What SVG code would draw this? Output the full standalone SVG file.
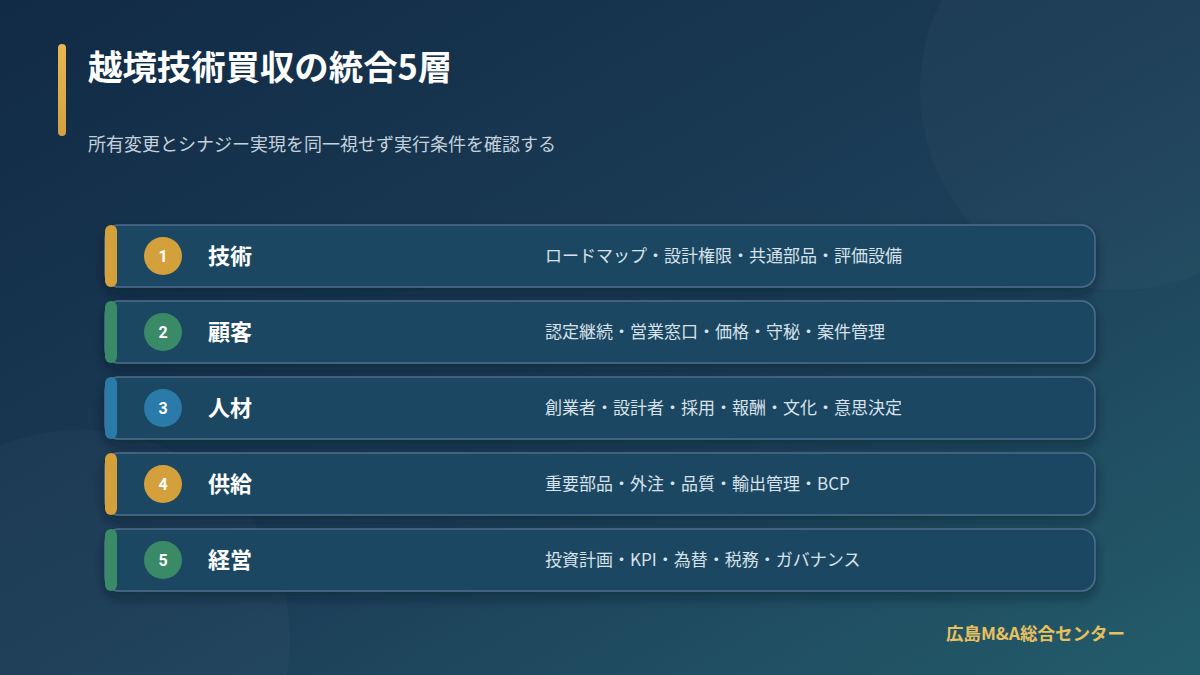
<svg xmlns="http://www.w3.org/2000/svg" width="1200" height="675" viewBox="0 0 1200 675">
<defs>
<linearGradient id="bg" x1="0" y1="0" x2="1" y2="1">
<stop offset="0" stop-color="#112a45"/>
<stop offset="0.55" stop-color="#1c3e58"/>
<stop offset="1" stop-color="#235c6a"/>
</linearGradient>
<linearGradient id="gold" x1="0" y1="0" x2="0" y2="1">
<stop offset="0" stop-color="#e8b850"/>
<stop offset="1" stop-color="#d4a040"/>
</linearGradient>
<filter id="sh" x="-5%" y="-30%" width="110%" height="170%">
<feDropShadow dx="0" dy="6" stdDeviation="6" flood-color="#081420" flood-opacity="0.45"/>
</filter>
</defs>
<style>
.card{fill:#1f4662;stroke:#4d6e8a;stroke-width:1.5}
.num{font-family:Roboto,"Liberation Sans","Noto Sans CJK JP",sans-serif;font-size:16px;font-weight:700;fill:#ffffff;text-anchor:middle}
.ttl{font-family:"Noto Sans CJK JP",sans-serif;font-size:22px;font-weight:700;fill:#ffffff}
.desc{font-family:"Noto Sans CJK JP",sans-serif;font-size:17px;fill:#d8e2ea}
</style>
<rect width="1200" height="675" fill="url(#bg)"/>
<circle cx="1120" cy="90" r="200" fill="#ffffff" fill-opacity="0.025"/>
<circle cx="80" cy="640" r="210" fill="#ffffff" fill-opacity="0.025"/>
<rect x="58" y="44" width="8" height="92" rx="4" fill="url(#gold)"/>
<text x="88" y="80" font-family="'Noto Sans CJK JP',sans-serif" font-size="34.4" font-weight="700" fill="#ffffff">越境技術買収の統合5層</text>
<text x="88" y="151" font-family="'Noto Sans CJK JP',sans-serif" font-size="18" fill="#c4d0dc">所有変更とシナジー実現を同一視せず実行条件を確認する</text>
<g id="layer1" transform="translate(0,225)">
<rect class="card" x="105" y="0" width="990" height="62" rx="14" filter="url(#sh)"/>
<rect x="105" y="0" width="12" height="62" rx="6" fill="#d4a03c"/>
<circle cx="163" cy="31" r="19" fill="#d4a03c"/>
<text class="num" x="163" y="37">1</text>
<text class="ttl" x="208" y="39">技術</text>
<text class="desc" x="545" y="37">ロードマップ・設計権限・共通部品・評価設備</text>
</g>
<g id="layer2" transform="translate(0,301)">
<rect class="card" x="105" y="0" width="990" height="62" rx="14" filter="url(#sh)"/>
<rect x="105" y="0" width="12" height="62" rx="6" fill="#3a8a68"/>
<circle cx="163" cy="31" r="19" fill="#3a8a68"/>
<text class="num" x="163" y="37">2</text>
<text class="ttl" x="208" y="39">顧客</text>
<text class="desc" x="545" y="37">認定継続・営業窓口・価格・守秘・案件管理</text>
</g>
<g id="layer3" transform="translate(0,377)">
<rect class="card" x="105" y="0" width="990" height="62" rx="14" filter="url(#sh)"/>
<rect x="105" y="0" width="12" height="62" rx="6" fill="#2a7aaa"/>
<circle cx="163" cy="31" r="19" fill="#2a7aaa"/>
<text class="num" x="163" y="37">3</text>
<text class="ttl" x="208" y="39">人材</text>
<text class="desc" x="545" y="37">創業者・設計者・採用・報酬・文化・意思決定</text>
</g>
<g id="layer4" transform="translate(0,453)">
<rect class="card" x="105" y="0" width="990" height="62" rx="14" filter="url(#sh)"/>
<rect x="105" y="0" width="12" height="62" rx="6" fill="#d4a03c"/>
<circle cx="163" cy="31" r="19" fill="#d4a03c"/>
<text class="num" x="163" y="37">4</text>
<text class="ttl" x="208" y="39">供給</text>
<text class="desc" x="545" y="37">重要部品・外注・品質・輸出管理・BCP</text>
</g>
<g id="layer5" transform="translate(0,529)">
<rect class="card" x="105" y="0" width="990" height="62" rx="14" filter="url(#sh)"/>
<rect x="105" y="0" width="12" height="62" rx="6" fill="#3a8a68"/>
<circle cx="163" cy="31" r="19" fill="#3a8a68"/>
<text class="num" x="163" y="37">5</text>
<text class="ttl" x="208" y="39">経営</text>
<text class="desc" x="545" y="37">投資計画・KPI・為替・税務・ガバナンス</text>
</g>
<g id="connectors"/>
<text x="1125" y="640" text-anchor="end" font-family="'Noto Sans CJK JP',sans-serif" font-size="17.5" font-weight="700" fill="#e8c060">広島M&amp;A総合センター</text>
</svg>
